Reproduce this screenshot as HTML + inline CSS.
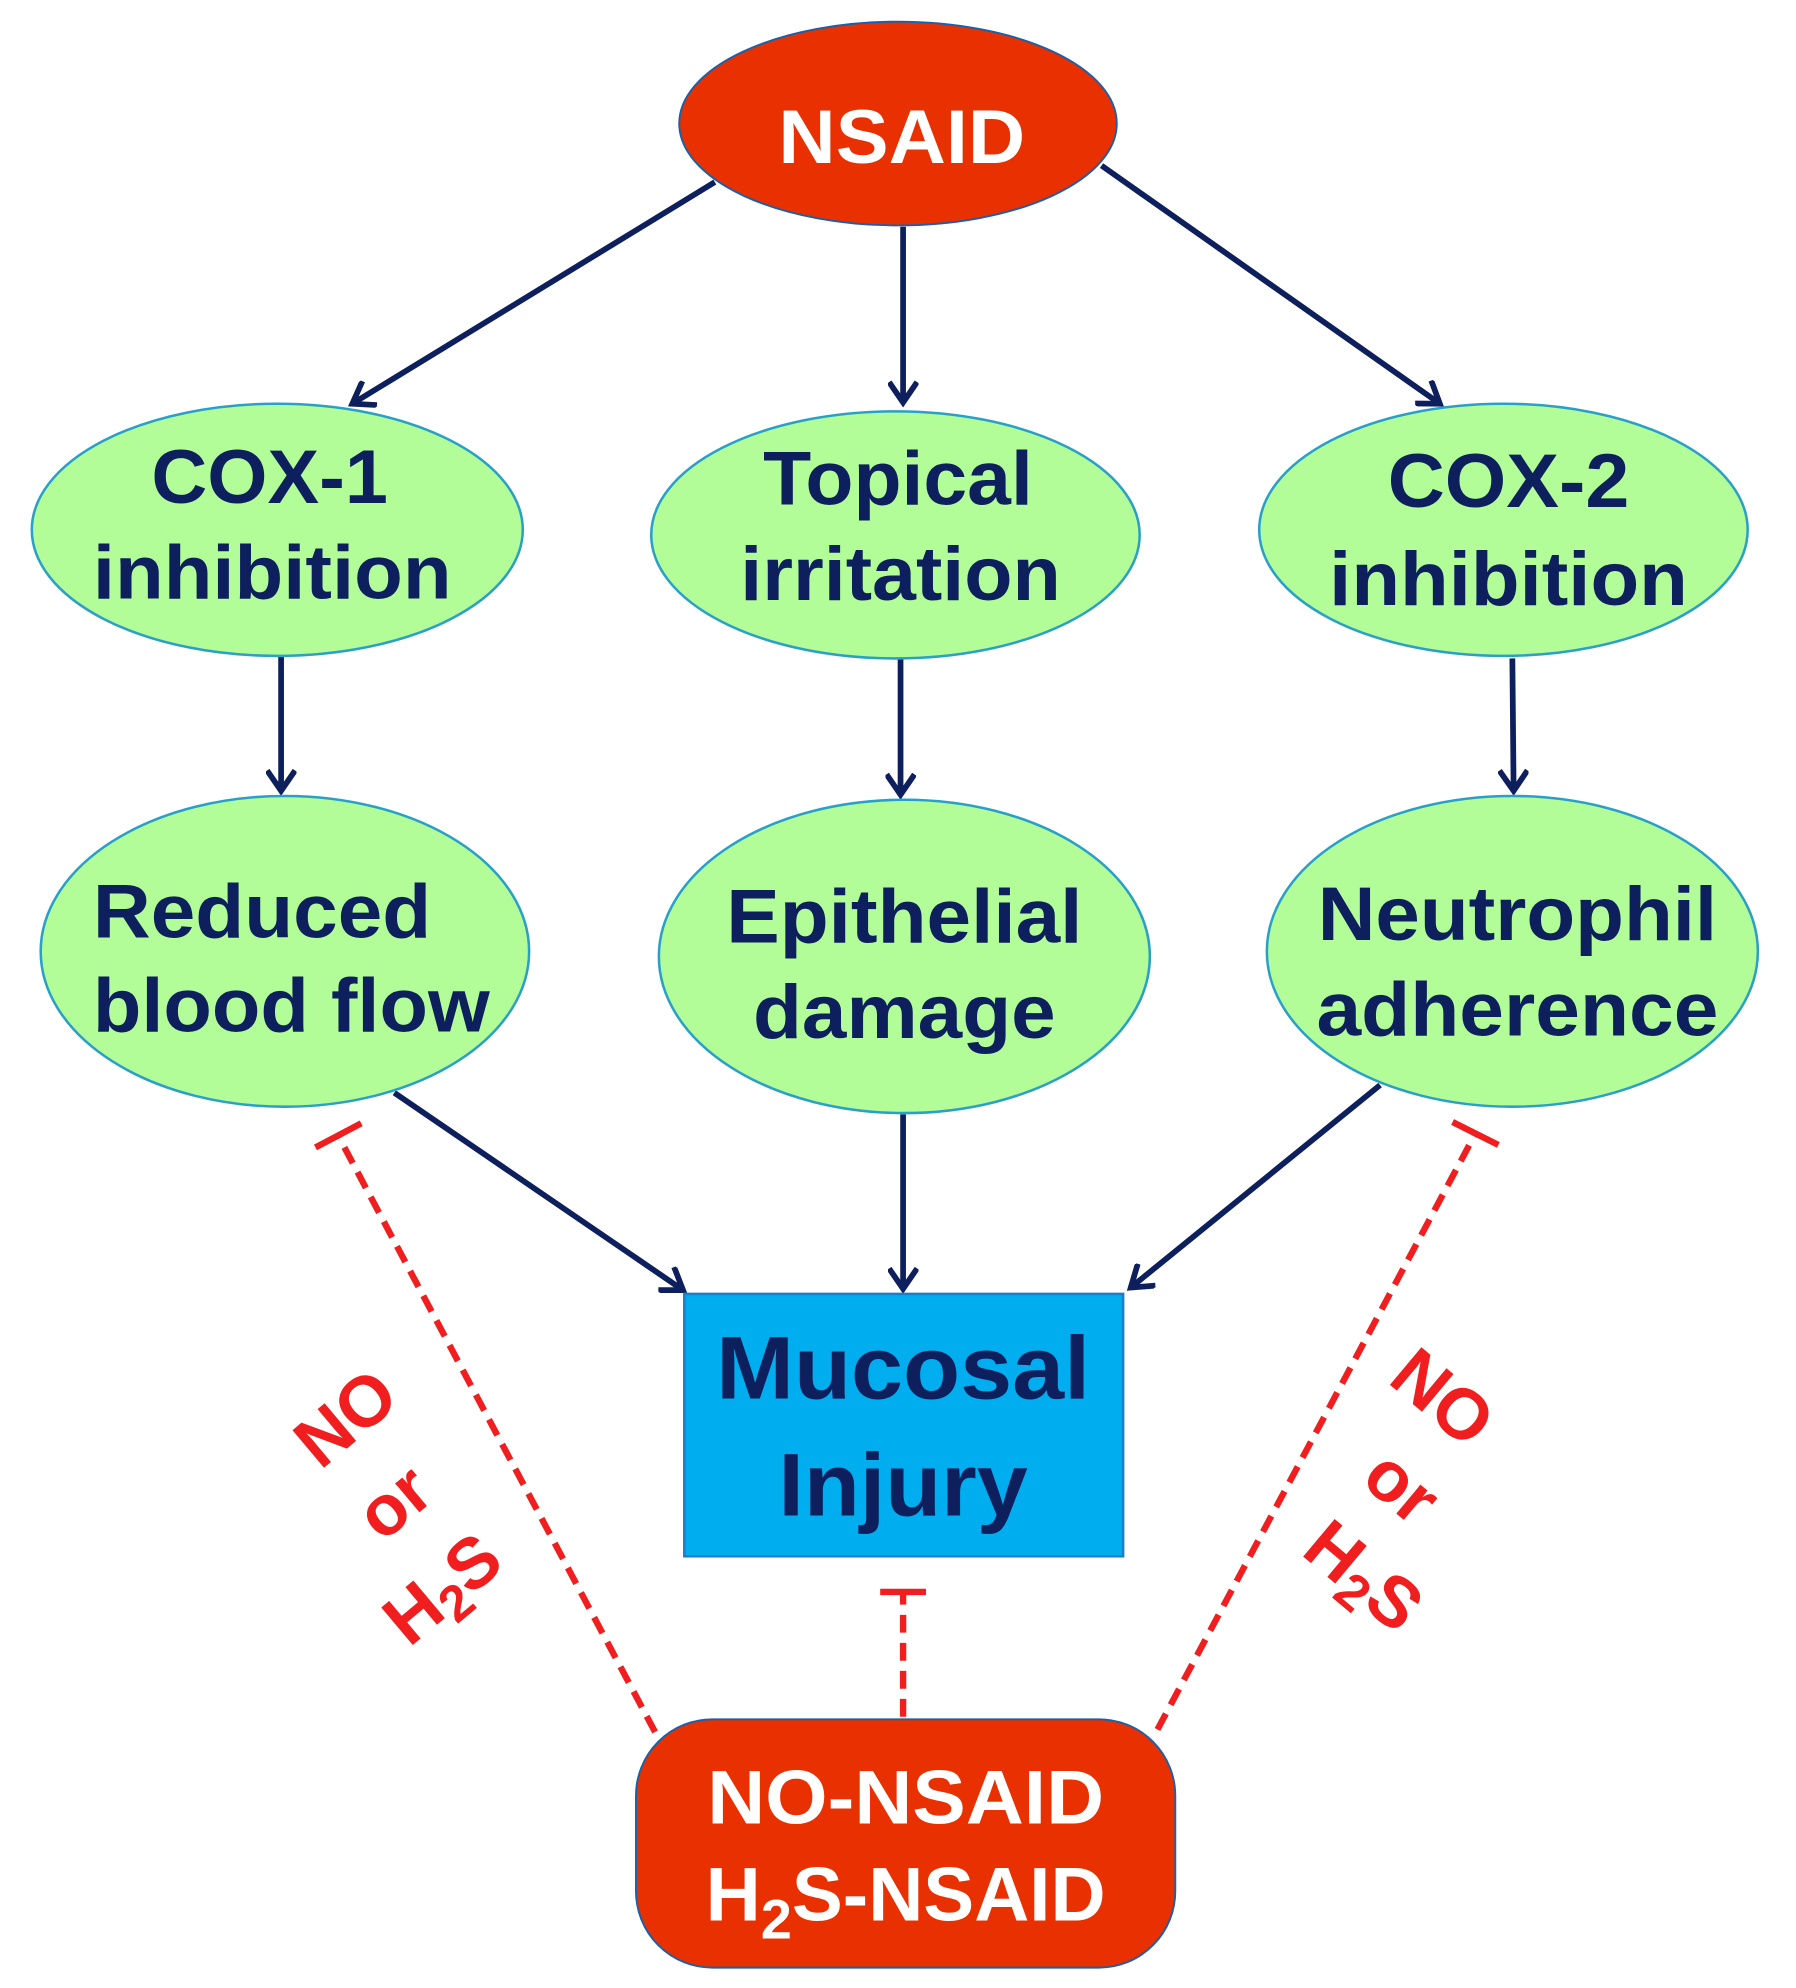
<!DOCTYPE html>
<html><head><meta charset="utf-8"><style>
html,body{margin:0;padding:0;background:#fff;}
svg{display:block;}
text{font-family:"Liberation Sans",Arial,sans-serif;font-weight:bold;}
</style></head><body>
<svg width="1796" height="1988" viewBox="0 0 1412 1561" preserveAspectRatio="none" xmlns="http://www.w3.org/2000/svg">
<defs>
<marker id="ar" markerWidth="24" markerHeight="24" refX="20" refY="12" orient="auto" markerUnits="userSpaceOnUse">
<path d="M4,1 L20,12 L4,23" fill="none" stroke="#0d1f5c" stroke-width="4.5"/>
</marker>
</defs>
<g stroke="#0d1f5c" stroke-width="4.5" fill="none" marker-end="url(#ar)">
<line x1="562" y1="143" x2="277" y2="317"/>
<line x1="710" y1="178" x2="710" y2="316"/>
<line x1="866" y1="130" x2="1132" y2="317"/>
<line x1="221" y1="515" x2="221" y2="621"/>
<line x1="708" y1="517" x2="708" y2="624"/>
<line x1="1189" y1="517" x2="1190" y2="621"/>
<line x1="310" y1="858" x2="537" y2="1013"/>
<line x1="710" y1="875" x2="710" y2="1012"/>
<line x1="1085" y1="852" x2="889" y2="1011"/>
</g>
<g stroke="#f01e1e" stroke-width="5" fill="none">
<line x1="515" y1="1360" x2="266" y2="892" stroke-dasharray="14,8"/>
<line x1="248" y1="901" x2="284" y2="882"/>
<line x1="710" y1="1348" x2="710" y2="1250" stroke-dasharray="14,8"/>
<line x1="692" y1="1250" x2="728" y2="1250"/>
<line x1="910" y1="1358" x2="1160" y2="890" stroke-dasharray="14,8"/>
<line x1="1142" y1="881" x2="1178" y2="899"/>
</g>
<ellipse cx="706" cy="97" rx="172" ry="80" fill="#e83000" stroke="#1a5fa8" stroke-width="1.5"/>
<text x="709" y="128" font-size="60" fill="#fff" text-anchor="middle" textLength="194" lengthAdjust="spacingAndGlyphs">NSAID</text>
<g fill="#b3fd99" stroke="#2aa0c8" stroke-width="2">
<ellipse cx="218" cy="416" rx="193" ry="99"/>
<ellipse cx="704" cy="420" rx="192" ry="97"/>
<ellipse cx="1182" cy="416" rx="192" ry="99"/>
<ellipse cx="224" cy="747" rx="192" ry="122"/>
<ellipse cx="711" cy="751" rx="193" ry="123"/>
<ellipse cx="1189" cy="747" rx="193" ry="122"/>
</g>
<g fill="#0d1f5c" font-size="60" text-anchor="middle" lengthAdjust="spacingAndGlyphs">
<text x="212" y="395" textLength="186" lengthAdjust="spacingAndGlyphs">COX-1</text><text x="214" y="470" textLength="282" lengthAdjust="spacingAndGlyphs">inhibition</text>
<text x="706" y="396" textLength="212" lengthAdjust="spacingAndGlyphs">Topical</text><text x="708" y="471" textLength="252" lengthAdjust="spacingAndGlyphs">irritation</text>
<text x="1186" y="398" textLength="190" lengthAdjust="spacingAndGlyphs">COX-2</text><text x="1186" y="475" textLength="282" lengthAdjust="spacingAndGlyphs">inhibition</text>
<text x="206" y="736" textLength="266" lengthAdjust="spacingAndGlyphs">Reduced</text><text x="229" y="810" textLength="312" lengthAdjust="spacingAndGlyphs">blood flow</text>
<text x="711" y="740" textLength="280" lengthAdjust="spacingAndGlyphs">Epithelial</text><text x="711" y="815" textLength="238" lengthAdjust="spacingAndGlyphs">damage</text>
<text x="1193" y="738" textLength="314" lengthAdjust="spacingAndGlyphs">Neutrophil</text><text x="1193" y="813" textLength="316" lengthAdjust="spacingAndGlyphs">adherence</text>
</g>
<rect x="538" y="1016" width="345" height="206" fill="#00aeef" stroke="#1a7fc8" stroke-width="2"/>
<g fill="#0d1f5c" font-size="70" text-anchor="middle">
<text x="710" y="1098" textLength="294" lengthAdjust="spacingAndGlyphs">Mucosal</text><text x="710" y="1190" textLength="196" lengthAdjust="spacingAndGlyphs">Injury</text>
</g>
<rect x="500" y="1350" width="424" height="195" rx="60" fill="#e83000" stroke="#1a5fa8" stroke-width="1.5"/>
<g fill="#fff" font-size="60" text-anchor="middle">
<text x="712" y="1432" textLength="312" lengthAdjust="spacingAndGlyphs">NO-NSAID</text>
<text x="712" y="1508">H<tspan font-size="44" dy="14">2</tspan><tspan dy="-14">S-NSAID</tspan></text>
</g>
<g fill="#f01e1e" font-size="56" text-anchor="middle">
<text transform="translate(284,1128) rotate(-40)">NO</text>
<text transform="translate(322,1194) rotate(-40)">or</text>
<text transform="translate(360,1262) rotate(-40)">H<tspan font-size="40" dy="10">2</tspan><tspan dy="-10">S</tspan></text>
<text transform="translate(1122,1112) rotate(40)">NO</text>
<text transform="translate(1090,1182) rotate(40)">or</text>
<text transform="translate(1060,1252) rotate(40)">H<tspan font-size="40" dy="10">2</tspan><tspan dy="-10">S</tspan></text>
</g>
</svg>
</body></html>
